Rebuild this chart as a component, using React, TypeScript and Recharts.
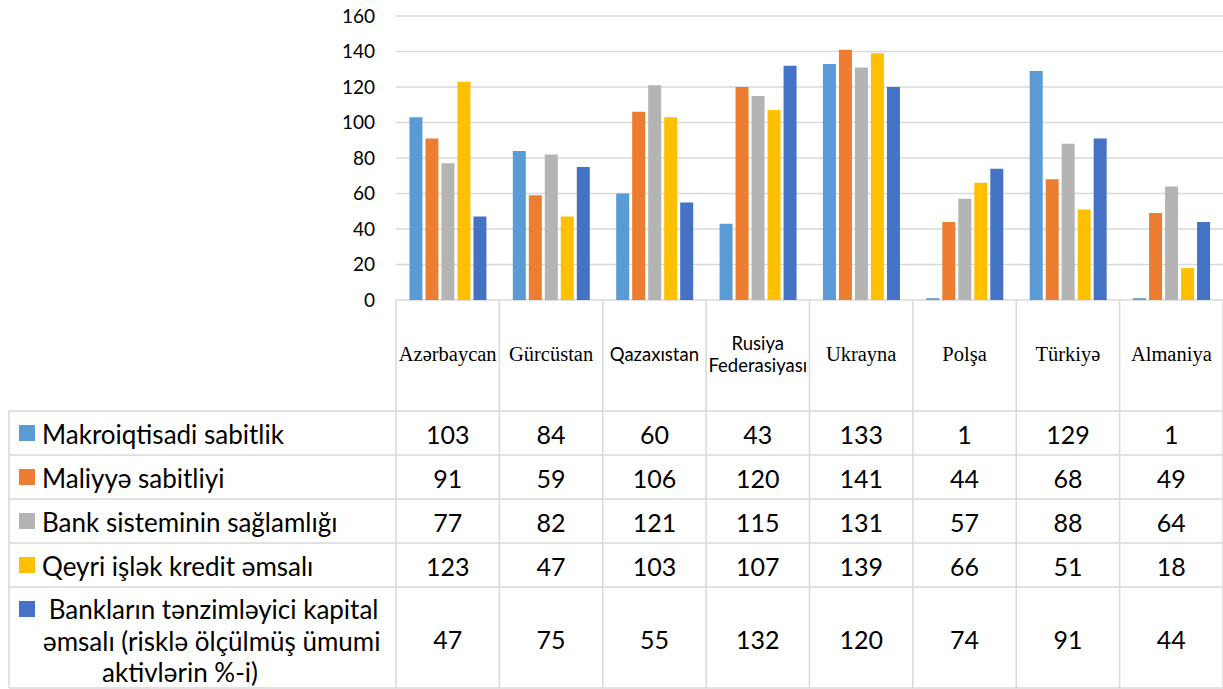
import React from 'react';
import { BarChart, Bar, XAxis, YAxis, CartesianGrid } from 'recharts';

const categories = [
  'Azərbaycan',
  'Gürcüstan',
  'Qazaxıstan',
  'Rusiya Federasiyası',
  'Ukrayna',
  'Polşa',
  'Türkiyə',
  'Almaniya',
];

const makroiqtisadi = [103, 84, 60, 43, 133, 1, 129, 1];
const maliyye = [91, 59, 106, 120, 141, 44, 68, 49];
const bankSistemi = [77, 82, 121, 115, 131, 57, 88, 64];
const qeyriIslek = [123, 47, 103, 107, 139, 66, 51, 18];
const kapitalEmsali = [47, 75, 55, 132, 120, 74, 91, 44];

const yTicks = [0, 20, 40, 60, 80, 100, 120, 140, 160];

const seriesNames = [
  'Makroiqtisadi sabitlik',
  'Maliyyə sabitliyi',
  'Bank sisteminin sağlamlığı',
  'Qeyri işlək kredit əmsalı',
  ' Bankların tənzimləyici kapital\nəmsalı (risklə ölçülmüş ümumi\naktivlərin %-i)',
];

const seriesValues = [makroiqtisadi, maliyye, bankSistemi, qeyriIslek, kapitalEmsali];
const seriesKeys = ['makro', 'maliyye', 'bank', 'qeyri', 'kapital'];
const seriesColors = ['#5B9BD5', '#ED7D31', '#B4B4B4', '#FFC000', '#4472C4'];

const data = categories.map((name, i) => {
  const row: Record<string, any> = { name };
  seriesKeys.forEach((k, s) => {
    row[k] = seriesValues[s][i];
  });
  return row;
});

const CHART_W = 1223;
const CHART_H = 689;
const Y_AXIS_W = 396;
const X_AXIS_H = 389;
const GRID = '#D9D9D9';
const SANS = 'Lato, Carlito, Calibri, sans-serif';
const SERIF = '"Liberation Serif", Cambria, serif';
const sansHeaders = ['Qazaxıstan', 'Rusiya Federasiyası'];

// row edges below the axis line (offsets from axis y)
const rowEdges = [111, 155, 199, 243, 287, 388];

const TableTick = (props: any) => {
  const { x, y, payload, index } = props;
  const colW = (CHART_W - Y_AXIS_W) / categories.length;
  const left = x - colW / 2;
  const name: string = payload.value;
  const isSans = sansHeaders.includes(name);
  const lines = isSans && name.includes(' ') ? name.split(' ') : [name];

  return (
    <g>
      <line x1={left} x2={left} y1={y} y2={y + rowEdges[5]} stroke={GRID} strokeWidth={1.5} />
      {index === categories.length - 1 && (
        <line x1={left + colW} x2={left + colW} y1={y} y2={y + rowEdges[5]} stroke={GRID} strokeWidth={1.5} />
      )}
      {lines.map((ln, li) => (
        <text
          key={li}
          x={x}
          y={y + 54 + (li - (lines.length - 1) / 2) * 22}
          textAnchor="middle"
          dominantBaseline="central"
          fontFamily={isSans ? SANS : SERIF}
          fontSize={isSans ? 18.5 : 20.5}
          fill="#000"
        >
          {ln}
        </text>
      ))}
      {seriesValues.map((vals, s) => (
        <text
          key={s}
          x={x}
          y={y + (rowEdges[s] + rowEdges[s + 1]) / 2 + 1}
          textAnchor="middle"
          dominantBaseline="central"
          fontFamily={SANS}
          fontSize={25}
          fill="#000"
        >
          {vals[index]}
        </text>
      ))}
      {index === 0 && (
        <g>
          {rowEdges.map((e, i) => (
            <line key={i} x1={9} x2={CHART_W} y1={y + e} y2={y + e} stroke={GRID} strokeWidth={1.5} />
          ))}
          <line x1={9} x2={9} y1={y + rowEdges[0]} y2={y + rowEdges[5]} stroke={GRID} strokeWidth={1.5} />
          {seriesNames.map((sn, s) => {
            const parts = sn.split('\n');
            const top = y + rowEdges[s];
            const mid = (rowEdges[s] + rowEdges[s + 1]) / 2 + y;
            const keyY = parts.length > 1 ? top + 14 : mid - 8;
            return (
              <g key={s}>
                <rect x={19} y={keyY} width={16} height={16} fill={seriesColors[s]} />
                {parts.map((p, pi) => (
                  <text
                    key={pi}
                    x={pi === 2 ? 180 : pi === 0 ? 42 : 43}
                    y={parts.length > 1 ? top + 22 + pi * 31.5 : mid + 1}
                    textAnchor={pi === 2 ? 'middle' : 'start'}
                    dominantBaseline="central"
                    fontFamily={SANS}
                    fontSize={26}
                    fill="#000"
                    style={{ whiteSpace: 'pre' }}
                  >
                    {p}
                  </text>
                ))}
              </g>
            );
          })}
        </g>
      )}
    </g>
  );
};

export default function App() {
  return (
    <div style={{ position: 'absolute', left: 0, top: 0, width: CHART_W, height: CHART_H, background: '#fff' }}>
      <BarChart
        width={CHART_W}
        height={CHART_H}
        data={data}
        margin={{ top: 16, right: 0, bottom: 0, left: 0 }}
        barCategoryGap="13%"
        barGap={3}
      >
        <CartesianGrid vertical={false} stroke={GRID} strokeWidth={1.5} />
        <YAxis
          width={Y_AXIS_W}
          domain={[0, 160]}
          ticks={yTicks}
          interval={0}
          axisLine={false}
          tickLine={false}
          tickSize={0}
          tickMargin={21}
          tick={{ fill: '#000', fontSize: 19, fontFamily: SANS }}
        />
        <XAxis
          dataKey="name"
          height={X_AXIS_H}
          interval={0}
          axisLine={false}
          tickLine={false}
          tickSize={0}
          tickMargin={0}
          tick={(p: any) => <TableTick {...p} />}
        />
        {seriesKeys.map((k, s) => (
          <Bar key={k} dataKey={k} fill={seriesColors[s]} isAnimationActive={false} />
        ))}
      </BarChart>
    </div>
  );
}
